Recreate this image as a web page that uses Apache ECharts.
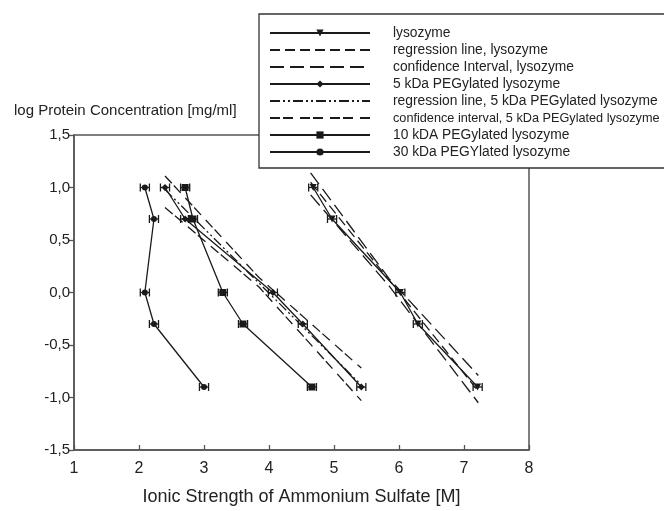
<!DOCTYPE html>
<html>
<head>
<meta charset="utf-8">
<script src="https://cdn.jsdelivr.net/npm/echarts@6/dist/echarts.min.js"></script>
<style>
  html, body { margin: 0; padding: 0; background: #fff; }
  #chart { width: 664px; height: 511px; }
</style>
</head>
<body>
<div id="chart"></div>
<script>
// measured points (ionic strength [M], log concentration)
var levels   = [1.0, 0.7, 0.0, -0.3, -0.9];
var lysoX    = [4.68, 4.97, 6.02, 6.29, 7.21];
var peg5X    = [2.40, 2.71, 4.06, 4.52, 5.42];
var peg10X   = [2.71, 2.83, 3.29, 3.60, 4.66];
var peg30X   = [2.09, 2.23, 2.09, 2.23, 3.00];
var xErr     = [0.07, 0.07, 0.07, 0.07, 0.07];

// regression lines and confidence bands
var lysoReg  = [[4.64, 1.05], [7.22, -0.94]];
var lysoCiUp = [[4.64, 1.14], [5.85, 0.13], [7.22, -0.79]];
var lysoCiLo = [[4.64, 0.93], [5.85, 0.06], [7.22, -1.05]];
var peg5Reg  = [[2.40, 0.98], [5.42, -0.88]];
var peg5CiUp = [[2.40, 1.11], [3.85, 0.14], [5.42, -0.72]];
var peg5CiLo = [[2.40, 0.81], [3.85, 0.05], [5.42, -1.03]];

var xTicks = [1, 2, 3, 4, 5, 6, 7, 8];
var yTicks = [-1.5, -1.0, -0.5, 0.0, 0.5, 1.0, 1.5];

var names = [
    'lysozyme',
    'regression line, lysozyme',
    'confidence Interval, lysozyme',
    '5 kDa PEGylated lysozyme',
    'regression line, 5 kDa PEGylated lysozyme',
    'confidence interval, 5 kDa PEGylated lysozyme',
    '10 kDA PEGylated lysozyme',
    '30 kDa PEGYlated lysozyme'
];

var ink = '#1a1a1a';

function pairs(xs){
    var out = [];
    for (var i = 0; i < xs.length; i++) out.push([xs[i], levels[i]]);
    return out;
}

function errTriples(xs){
    var out = [];
    for (var i = 0; i < xs.length; i++) out.push([xs[i], levels[i], xErr[i]]);
    return out;
}

// horizontal error bar with end caps
function renderErr(params, api){
    var x = api.value(0), y = api.value(1), e = api.value(2);
    var a = api.coord([x - e, y]);
    var b = api.coord([x + e, y]);
    var st = { stroke: ink, lineWidth: 1.3 };
    return {
        type: 'group',
        children: [
            { type: 'line', shape: { x1: a[0], y1: a[1], x2: b[0], y2: b[1] }, style: st },
            { type: 'line', shape: { x1: a[0], y1: a[1] - 4, x2: a[0], y2: a[1] + 4 }, style: st },
            { type: 'line', shape: { x1: b[0], y1: b[1] - 4, x2: b[0], y2: b[1] + 4 }, style: st }
        ]
    };
}

function pointSeries(name, xs, symbol, rotate){
    return {
        name: name,
        type: 'line',
        data: pairs(xs),
        symbol: symbol,
        symbolSize: symbol === 'circle' ? 6 : 7,
        symbolRotate: rotate || 0,
        lineStyle: { color: ink, width: 1.3 },
        itemStyle: { color: ink },
        z: 4
    };
}

// line only; transparent item colour hides the legend marker
function plainLine(name, data, dash){
    return {
        name: name,
        type: 'line',
        data: data,
        symbol: 'circle',
        showSymbol: false,
        lineStyle: { color: ink, width: 1.3, type: dash },
        itemStyle: { color: 'rgba(0,0,0,0)', borderWidth: 0 },
        z: 3
    };
}

function errSeries(xs){
    return {
        type: 'custom',
        renderItem: renderErr,
        data: errTriples(xs),
        z: 5
    };
}

function fmtComma(v){
    return v.toFixed(1).replace('.', ',');
}

var chart = echarts.init(document.getElementById('chart'));

var option = {
    animation: false,
    backgroundColor: '#fff',
    textStyle: { fontFamily: 'Liberation Sans, Arial, sans-serif', color: '#222' },
    title: {
        text: 'log Protein Concentration [mg/ml]',
        left: 9,
        top: 98,
        textStyle: { fontSize: 15, fontWeight: 'normal', color: '#222', fontFamily: 'Liberation Sans, Arial, sans-serif' }
    },
    grid: {
        left: 74, right: 135, top: 135, bottom: 57,
        show: true, borderColor: '#555', borderWidth: 1.5, backgroundColor: 'transparent'
    },
    legend: {
        orient: 'vertical',
        left: 259,
        top: 14,
        data: names.map(function(n, i){
            return i === 5 ? { name: n, textStyle: { fontSize: 12.7 } } : n;
        }),
        itemWidth: 100,
        itemHeight: 9,
        itemGap: 3,
        padding: [12, 8, 9, 10],
        backgroundColor: '#fff',
        borderColor: '#333',
        borderWidth: 1.3,
        borderRadius: 0,
        textStyle: { fontSize: 13.8, lineHeight: 14, color: '#222', padding: [0, 0, 0, 18] },
        selectedMode: false,
        z: 10
    },
    xAxis: {
        type: 'value',
        min: xTicks[0],
        max: xTicks[xTicks.length - 1],
        interval: 1,
        name: 'Ionic Strength of Ammonium Sulfate [M]',
        nameLocation: 'middle',
        nameGap: 38,
        nameTextStyle: { fontSize: 18, color: '#222' },
        axisLine: { onZero: false, lineStyle: { color: '#555', width: 1.5 } },
        axisTick: { inside: true, length: 5, lineStyle: { color: '#555', width: 1.3 } },
        axisLabel: { fontSize: 16, color: '#222', margin: 11 },
        splitLine: { show: false }
    },
    yAxis: {
        type: 'value',
        min: yTicks[0],
        max: yTicks[yTicks.length - 1],
        interval: 0.5,
        axisLine: { show: true, onZero: false, lineStyle: { color: '#555', width: 1.5 } },
        axisTick: { show: true, length: 5, lineStyle: { color: '#555', width: 1.3 } },
        axisLabel: { fontSize: 15, color: '#222', margin: 4, formatter: fmtComma },
        splitLine: { show: false }
    },
    series: [
        pointSeries(names[0], lysoX, 'triangle', 180),
        plainLine(names[1], lysoReg, [10, 5]),
        plainLine(names[2], lysoCiUp, [14, 6]),
        plainLine(names[2], lysoCiLo, [14, 6]),
        pointSeries(names[3], peg5X, 'diamond'),
        plainLine(names[4], peg5Reg, [10, 3, 2, 3, 2, 3]),
        plainLine(names[5], peg5CiUp, [10, 3, 10, 7]),
        plainLine(names[5], peg5CiLo, [10, 3, 10, 7]),
        pointSeries(names[6], peg10X, 'rect'),
        pointSeries(names[7], peg30X, 'circle'),
        errSeries(lysoX),
        errSeries(peg5X),
        errSeries(peg10X),
        errSeries(peg30X)
    ]
};

chart.setOption(option);
</script>
</body>
</html>
